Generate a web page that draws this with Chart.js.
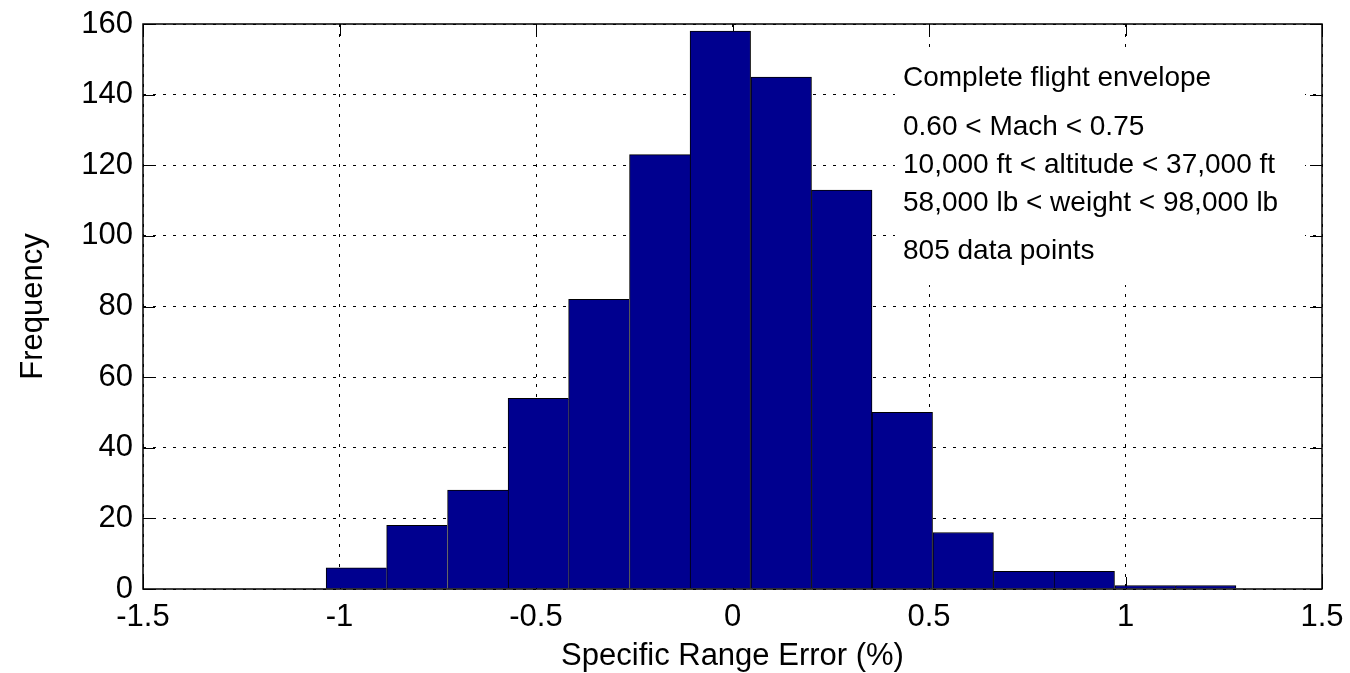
<!DOCTYPE html>
<html>
<head>
<meta charset="utf-8">
<script src="https://cdn.jsdelivr.net/npm/chart.js@4.4.1/dist/chart.umd.min.js"></script>
<style>
  html, body { margin: 0; padding: 0; background: #fff; }
  #wrap { width: 1350px; height: 673px; position: relative; }
</style>
</head>
<body>
<div id="wrap"><canvas id="hist"></canvas></div>
<script>
// bin centres (% error) and counts per bin
const binCenters = [-0.957, -0.803, -0.648, -0.494, -0.340, -0.185, -0.031, 0.124, 0.278, 0.432, 0.587, 0.741, 0.895, 1.050, 1.204];
const counts = [6, 18, 28, 54, 82, 123, 158, 145, 113, 50, 16, 5, 5, 1, 1];
const xTicks = [-1.5, -1, -0.5, 0, 0.5, 1, 1.5];
const yTicks = [0, 20, 40, 60, 80, 100, 120, 140, 160];
const noteLines = [
  'Complete flight envelope',
  '0.60 < Mach < 0.75',
  '10,000 ft < altitude < 37,000 ft',
  '58,000 lb < weight < 98,000 lb',
  '805 data points'
];

const FONT = '"Liberation Sans", Arial, sans-serif';
const BAR_COLOR = '#00008f';

// inward ticks, note box and the frame around the plot
const axesDecor = {
  id: 'axesDecor',
  beforeDatasetsDraw(chart) {
    const ctx = chart.ctx;
    const a = chart.chartArea;
    const xs = chart.scales.x, ys = chart.scales.y;
    const len = 12;
    ctx.save();
    ctx.strokeStyle = '#000';
    ctx.lineWidth = 1;
    ctx.beginPath();
    xTicks.forEach(v => {
      const px = Math.round(xs.getPixelForValue(v)) + 0.5;
      ctx.moveTo(px, a.bottom); ctx.lineTo(px, a.bottom - len);
      ctx.moveTo(px, a.top); ctx.lineTo(px, a.top + len);
    });
    yTicks.forEach(v => {
      const py = Math.round(ys.getPixelForValue(v)) + 0.5;
      ctx.moveTo(a.left, py); ctx.lineTo(a.left + len, py);
      ctx.moveTo(a.right, py); ctx.lineTo(a.right - len, py);
    });
    ctx.stroke();

    // text block with white background
    ctx.fillStyle = '#fff';
    ctx.fillRect(895, 48, 410, 237);
    ctx.fillStyle = '#000';
    ctx.font = '28px ' + FONT;
    ctx.textBaseline = 'middle';
    ctx.textAlign = 'left';
    const rows = [78, 127, 165, 203, 251];
    noteLines.forEach((t, i) => ctx.fillText(t, 903, rows[i]));
    ctx.restore();
  },
  afterDatasetsDraw(chart) {
    const ctx = chart.ctx;
    const a = chart.chartArea;
    ctx.save();
    ctx.strokeStyle = '#000';
    ctx.lineWidth = 1.5;
    ctx.strokeRect(a.left, a.top, a.right - a.left, a.bottom - a.top);
    ctx.restore();
  }
};

const n = counts.length;
new Chart(document.getElementById('hist'), {
  type: 'bar',
  data: {
    datasets: [{
      data: binCenters.map((c, i) => ({ x: c, y: counts[i] })),
      backgroundColor: BAR_COLOR,
      borderColor: '#000',
      borderWidth: ctx => {
        const i = ctx.dataIndex;
        const right = (i === n - 1 || counts[i + 1] < counts[i]) ? 1 : 0;
        return { top: 1, left: 1, right: right, bottom: 0 };
      },
      borderSkipped: false,
      barPercentage: 1,
      categoryPercentage: 1
    }]
  },
  plugins: [axesDecor],
  options: {
    responsive: true,
    maintainAspectRatio: false,
    animation: false,
    layout: { padding: { top: 24, right: 28, left: 0, bottom: 0 } },
    plugins: { legend: { display: false }, tooltip: { enabled: false } },
    scales: {
      x: {
        type: 'linear',
        min: -1.5,
        max: 1.5,
        offset: false,
        afterBuildTicks: s => { s.ticks = xTicks.map(v => ({ value: v })); },
        afterFit: s => {
          s.height = 84;
          s.paddingLeft = 0; s.paddingRight = 0;
        },
        grid: { color: '#000', lineWidth: 1, drawTicks: false, offset: false },
        border: { display: false, dash: [3, 7] },
        ticks: {
          color: '#000',
          padding: 10,
          font: { family: FONT, size: 31 },
          callback: v => String(v)
        },
        title: {
          display: true,
          text: 'Specific Range Error (%)',
          color: '#000',
          font: { family: FONT, size: 31, lineHeight: 1 },
          padding: { top: 0, bottom: 1 }
        }
      },
      y: {
        min: 0,
        max: 160,
        afterBuildTicks: s => { s.ticks = yTicks.map(v => ({ value: v })); },
        afterFit: s => {
          s.width = 143;
          s.paddingTop = 0; s.paddingBottom = 0;
        },
        grid: { color: '#000', lineWidth: 1, drawTicks: false },
        border: { display: false, dash: [3, 7] },
        ticks: { color: '#000', padding: 10, font: { family: FONT, size: 31 } },
        title: {
          display: true,
          text: 'Frequency',
          color: '#000',
          font: { family: FONT, size: 31, lineHeight: 1 },
          padding: { top: 18, bottom: 0 }
        }
      }
    }
  }
});
</script>
</body>
</html>
